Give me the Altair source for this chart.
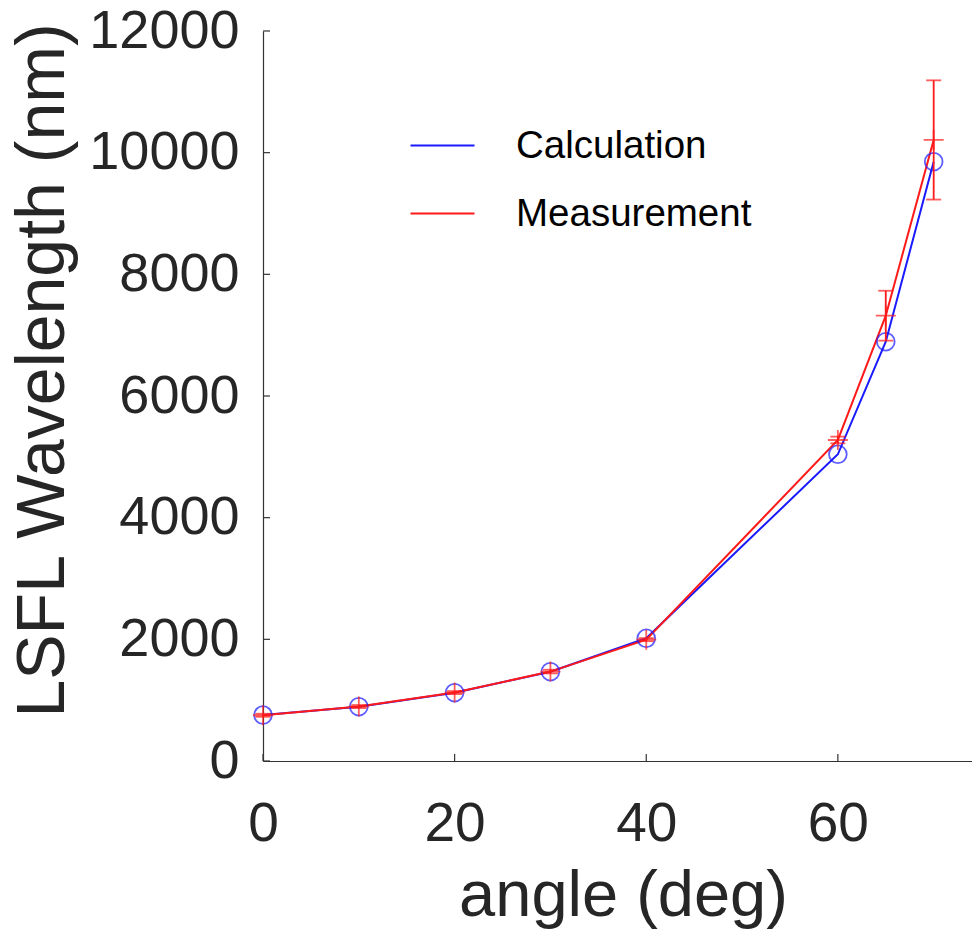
import altair as alt
import pandas as pd

# ---- data ----
angles = [0, 10, 20, 30, 40, 60, 65, 70]
calculation = [756, 893, 1123, 1468, 2017, 5042, 6893, 9852]
measurement = [752, 895, 1125, 1470, 1995, 5277, 7320, 10209]
meas_err = [25, 25, 25, 30, 25, 55, 410, 980]
series_names = ["Calculation", "Measurement"]
series_colors = ["#1a1aff", "#ff1a1a"]
x_ticks = [0, 20, 40, 60]
y_ticks = [0, 2000, 4000, 6000, 8000, 10000, 12000]

FONT = "Liberation Sans"
AXIS_COLOR = "#333333"
W, H = 709, 730

lines_df = pd.DataFrame({
    "angle": angles + angles,
    "value": calculation + measurement,
    "series": ["Calculation"] * len(angles) + ["Measurement"] * len(angles),
})
calc_df = pd.DataFrame({"angle": angles, "value": calculation})
meas_df = pd.DataFrame({
    "angle": angles,
    "value": measurement,
    "lo": [m - e for m, e in zip(measurement, meas_err)],
    "hi": [m + e for m, e in zip(measurement, meas_err)],
})
xt_df = pd.DataFrame({"angle": x_ticks})
yt_df = pd.DataFrame({"value": y_ticks})

xscale = alt.Scale(domain=[0, 74], nice=False, zero=False)
yscale = alt.Scale(domain=[0, 12000], nice=False)

XTITLE = "angle (deg)"
YTITLE = "LSFL Wavelength (nm)"

x_axis = alt.Axis(
    values=x_ticks, format="d", grid=False, ticks=False, tickSize=0,
    labelFont=FONT, labelFontSize=55, labelColor="#262626",
    labelPadding=79, labelBaseline="alphabetic", labelFlush=False,
    domainColor=AXIS_COLOR, domainWidth=1.2,
    title=XTITLE, titleFont=FONT, titleFontSize=65, titleFontWeight="normal",
    titleColor="#262626", titleX=360, titleY=154, titleBaseline="alphabetic",
    titleAlign="center",
)
y_axis = alt.Axis(
    values=y_ticks, format="d", grid=False, ticks=False, tickSize=0,
    labelFont=FONT, labelFontSize=54, labelColor="#262626",
    labelPadding=24, labelBaseline="middle", labelFlush=False,
    domainColor=AXIS_COLOR, domainWidth=1.2,
    title=YTITLE, titleFont=FONT, titleFontSize=68,
    titleFontWeight="normal", titleColor="#262626",
    titleX=-200, titleY=339, titleAngle=270, titleBaseline="alphabetic",
    titleAlign="center",
)


def xenc(field):
    return alt.X(field, scale=xscale, axis=x_axis, title=XTITLE)


def yenc(field):
    return alt.Y(field, scale=yscale, axis=y_axis, title=YTITLE)


lines = alt.Chart(lines_df).mark_line(strokeWidth=2).encode(
    x=xenc("angle:Q"), y=yenc("value:Q"),
    color=alt.Color(
        "series:N",
        scale=alt.Scale(domain=series_names, range=series_colors),
        legend=alt.Legend(
            title=None, orient="none", legendX=146, legendY=81, padding=0,
            symbolType="stroke", symbolSize=4096, symbolStrokeWidth=2.2,
            labelFont=FONT, labelFontSize=38.5, labelColor="#000000",
            labelOffset=40, rowPadding=15, labelLimit=400,
        ),
    ),
    order=alt.Order("angle:Q"),
)

circles = alt.Chart(calc_df).mark_point(
    shape="circle", size=314, filled=False, color=series_colors[0], strokeWidth=1.8
).encode(x=xenc("angle:Q"), y=yenc("value:Q"))

err_rules = alt.Chart(meas_df).mark_rule(color=series_colors[1], strokeWidth=1.8).encode(
    x=xenc("angle:Q"), y=yenc("lo:Q"), y2="hi:Q",
)

caps = alt.Chart(meas_df).transform_fold(["lo", "hi"], as_=["end", "endval"]).mark_point(
    shape="M-1,0H1", size=225, filled=False, color=series_colors[1], strokeWidth=1.8
).encode(x=xenc("angle:Q"), y=yenc("endval:Q"))

plus = alt.Chart(meas_df).mark_point(
    shape="M-1,0H1M0,-1V1", size=400, filled=False, color=series_colors[1], strokeWidth=1.8
).encode(x=xenc("angle:Q"), y=yenc("value:Q"))

xticks = alt.Chart(xt_df).mark_rule(color=AXIS_COLOR, strokeWidth=1.2).encode(
    x=xenc("angle:Q"), y=alt.value(H), y2=alt.value(H - 7),
)
yticks = alt.Chart(yt_df).mark_rule(color=AXIS_COLOR, strokeWidth=1.2).encode(
    y=yenc("value:Q"), x=alt.value(0), x2=alt.value(7),
)

chart = alt.layer(
    lines, circles, err_rules, caps, plus, xticks, yticks
).properties(
    width=W, height=H,
    padding={"left": 263, "top": 31, "right": 0, "bottom": 174},
    autosize=alt.AutoSizeParams(type="none"),
    background="white",
).configure_view(stroke=None)

chart.save("out.html", embed_options={"renderer": "svg", "actions": False})
